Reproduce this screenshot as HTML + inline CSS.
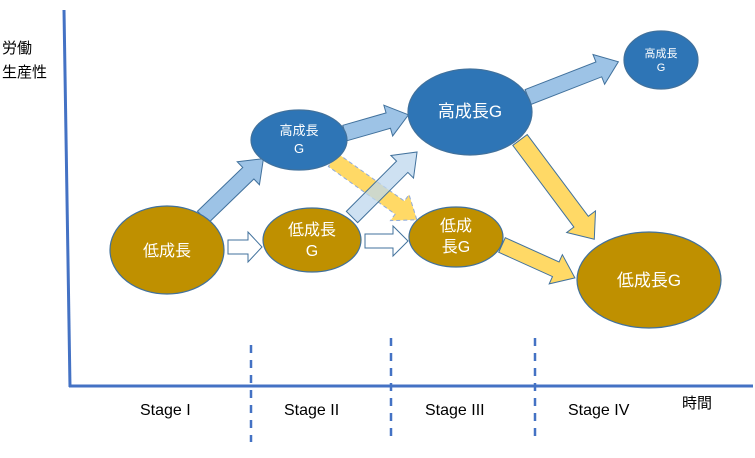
<!DOCTYPE html>
<html><head><meta charset="utf-8"><style>
body{margin:0;background:#fff;width:755px;height:458px;overflow:hidden}
svg{display:block}
text{font-family:"Liberation Sans","Noto Sans CJK JP",sans-serif}
</style></head><body>
<svg width="755" height="458" viewBox="0 0 755 458">
<!-- axes -->
<line x1="64" y1="10" x2="70" y2="387" stroke="#4472C4" stroke-width="3"/>
<line x1="69" y1="386" x2="753" y2="386" stroke="#4472C4" stroke-width="3"/>
<g stroke="#4472C4" stroke-width="2.5" stroke-dasharray="8,7">
<line x1="251" y1="345" x2="251" y2="442"/>
<line x1="391" y1="338" x2="391" y2="440"/>
<line x1="535" y1="338" x2="535" y2="440"/>
</g>
<g font-size="16" fill="#000">
<text x="140" y="415">Stage I</text>
<text x="284" y="415">Stage II</text>
<text x="425" y="415">Stage III</text>
<text x="568" y="415">Stage IV</text>
<text x="682" y="408" font-size="15">時間</text>
<text x="2" y="53" font-size="15">労働</text>
<text x="2" y="77" font-size="15">生産性</text>
</g>
<!-- arrows -->
<g stroke="#41719C" stroke-width="1">
<polygon transform="translate(203,217) rotate(-44)" points="0,-8 63,-8 63,-16 84,0 63,16 63,8 0,8" fill="#9DC3E6"/>
<polygon transform="translate(345,133) rotate(-16)" points="0,-8 45,-8 45,-16 66,0 45,16 45,8 0,8" fill="#9DC3E6"/>
<polygon transform="translate(528,97) rotate(-21.3)" points="0,-8 76,-8 76,-16 97,0 76,16 76,8 0,8" fill="#9DC3E6"/>
<polygon transform="translate(333,160) rotate(35.5)" points="0,-8 82,-8 82,-16 103,0 82,16 82,8 0,8" fill="#FFD966" stroke="#8FAADC" stroke-dasharray="4,3"/>
<polygon transform="translate(352,217) rotate(-45)" points="0,-8 71,-8 71,-16 92,0 71,16 71,8 0,8" fill="#BDD7EE" fill-opacity="0.75"/>
<polygon transform="translate(502,245) rotate(24.3)" points="0,-8 59,-8 59,-16 80,0 59,16 59,8 0,8" fill="#FFD966"/>
<polygon transform="translate(520,140) rotate(53.2)" points="0,-9 102,-9 102,-18 124,0 102,18 102,9 0,9" fill="#FFD966"/>
<polygon points="228,240 248,240 248,232 262,247 248,262 248,254 228,254" fill="#fff"/>
<polygon points="365,234 393,234 393,226 408,241 393,256 393,248 365,248" fill="#fff"/>
</g>
<!-- ellipses -->
<g stroke="#41719C" stroke-width="1.2">
<ellipse cx="167" cy="250" rx="57" ry="44" fill="#BF9000"/>
<ellipse cx="312" cy="240" rx="49" ry="32" fill="#BF9000"/>
<ellipse cx="456" cy="237" rx="47" ry="30" fill="#BF9000"/>
<ellipse cx="649" cy="280" rx="72" ry="48" fill="#BF9000"/>
<ellipse cx="299" cy="140" rx="48" ry="30" fill="#2E75B6"/>
<ellipse cx="470" cy="112" rx="62" ry="43" fill="#2E75B6"/>
<ellipse cx="661" cy="60" rx="37" ry="29" fill="#2E75B6"/>
</g>
<g fill="#fff" text-anchor="middle">
<text x="167" y="256" font-size="16">低成長</text>
<text x="312" y="235" font-size="16">低成長</text>
<text x="312" y="256" font-size="16">G</text>
<text x="456" y="231" font-size="16">低成</text>
<text x="456" y="252" font-size="16">長G</text>
<text x="649" y="286" font-size="17">低成長G</text>
<text x="299" y="135" font-size="13">高成長</text>
<text x="299" y="153" font-size="13">G</text>
<text x="470" y="117" font-size="17">高成長G</text>
<text x="661" y="57" font-size="11">高成長</text>
<text x="661" y="71" font-size="11">G</text>
</g>
</svg>
</body></html>
